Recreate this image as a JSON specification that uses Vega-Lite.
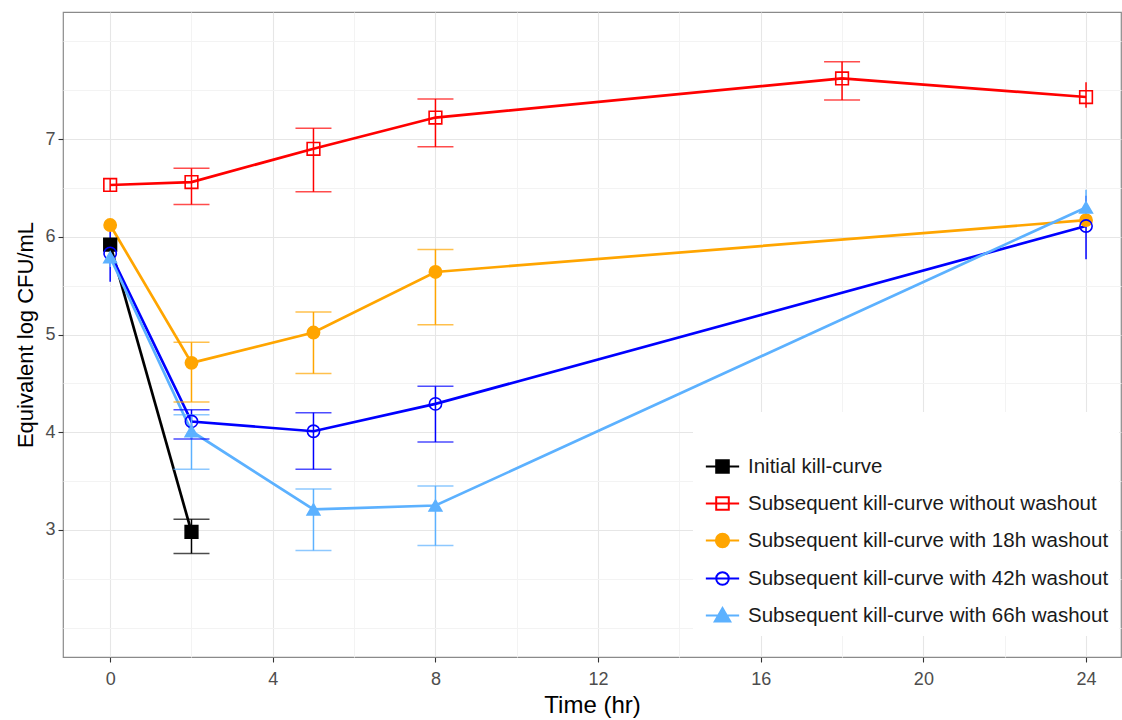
{
  "$schema": "https://vega.github.io/schema/vega-lite/v6.json",
  "width": 1058,
  "height": 645,
  "autosize": "none",
  "padding": {"left": 63, "top": 12, "right": 1, "bottom": 63},
  "background": "white",
  "config": {
    "font": "Arial, Liberation Sans, sans-serif",
    "view": {"stroke": "#8a8a8a", "strokeWidth": 1.2},
    "legend": {
      "orient": "none", "legendX": 630, "legendY": 400,
      "titleFontSize": 22, "titlePadding": 3,
      "padding": 10, "fillColor": "white",
      "symbolSize": 1369, "symbolStrokeWidth": 2, "symbolOpacity": 1,
      "labelFontSize": 20.5, "labelColor": "#1A1A1A", "labelOffset": 6,
      "labelLimit": 500, "rowPadding": 7
    }
  },
  "data": {
    "values": [
      {"series": "Initial kill-curve", "t": 0, "y": 5.92, "lo": 5.87, "hi": 5.97},
      {"series": "Initial kill-curve", "t": 2, "y": 2.98, "lo": 2.76, "hi": 3.11},
      {"series": "Subsequent kill-curve without washout", "t": 0, "y": 6.53, "lo": 6.46, "hi": 6.6},
      {"series": "Subsequent kill-curve without washout", "t": 2, "y": 6.56, "lo": 6.33, "hi": 6.7},
      {"series": "Subsequent kill-curve without washout", "t": 5, "y": 6.9, "lo": 6.46, "hi": 7.11},
      {"series": "Subsequent kill-curve without washout", "t": 8, "y": 7.22, "lo": 6.92, "hi": 7.41},
      {"series": "Subsequent kill-curve without washout", "t": 18, "y": 7.62, "lo": 7.4, "hi": 7.79},
      {"series": "Subsequent kill-curve without washout", "t": 24, "y": 7.43, "lo": 7.32, "hi": 7.58},
      {"series": "Subsequent kill-curve with 18h washout", "t": 0, "y": 6.12, "lo": 6.07, "hi": 6.17},
      {"series": "Subsequent kill-curve with 18h washout", "t": 2, "y": 4.71, "lo": 4.31, "hi": 4.92},
      {"series": "Subsequent kill-curve with 18h washout", "t": 5, "y": 5.02, "lo": 4.6, "hi": 5.23},
      {"series": "Subsequent kill-curve with 18h washout", "t": 8, "y": 5.64, "lo": 5.1, "hi": 5.87},
      {"series": "Subsequent kill-curve with 18h washout", "t": 24, "y": 6.17, "lo": 6.12, "hi": 6.22},
      {"series": "Subsequent kill-curve with 42h washout", "t": 0, "y": 5.83, "lo": 5.54, "hi": 6.1},
      {"series": "Subsequent kill-curve with 42h washout", "t": 2, "y": 4.11, "lo": 3.93, "hi": 4.23},
      {"series": "Subsequent kill-curve with 42h washout", "t": 5, "y": 4.01, "lo": 3.62, "hi": 4.2},
      {"series": "Subsequent kill-curve with 42h washout", "t": 8, "y": 4.29, "lo": 3.9, "hi": 4.47},
      {"series": "Subsequent kill-curve with 42h washout", "t": 24, "y": 6.11, "lo": 5.77, "hi": 6.42},
      {"series": "Subsequent kill-curve with 66h washout", "t": 0, "y": 5.79, "lo": 5.69, "hi": 5.89},
      {"series": "Subsequent kill-curve with 66h washout", "t": 2, "y": 4.01, "lo": 3.62, "hi": 4.18},
      {"series": "Subsequent kill-curve with 66h washout", "t": 5, "y": 3.21, "lo": 2.79, "hi": 3.42},
      {"series": "Subsequent kill-curve with 66h washout", "t": 8, "y": 3.25, "lo": 2.84, "hi": 3.45},
      {"series": "Subsequent kill-curve with 66h washout", "t": 24, "y": 6.3, "lo": 6.12, "hi": 6.48}
    ]
  },
  "encoding": {
    "x": {
      "field": "t", "type": "quantitative",
      "scale": {"domain": [-1.16, 24.86], "nice": false, "zero": false},
      "axis": {
        "title": "Time (hr)",
        "values": [0, 2, 4, 6, 8, 10, 12, 14, 16, 18, 20, 22, 24],
        "labelExpr": "datum.value % 4 === 0 ? '' + datum.value : ''",
        "domain": false,
        "tickColor": "#333333",
        "tickOpacity": {"condition": {"test": "datum.value % 4 !== 0", "value": 0}, "value": 1},
        "tickSize": 5,
        "tickWidth": 1.1,
        "labelFontSize": 18,
        "labelColor": "#4D4D4D",
        "labelPadding": 8,
        "titleFontSize": 24,
        "titleFontWeight": "normal",
        "titleColor": "#000000",
        "titlePadding": 5,
        "gridColor": {"condition": {"test": "datum.value % 4 !== 0", "value": "#F3F3F3"}, "value": "#E6E6E6"},
        "gridWidth": 1.1
      }
    }
  },
  "layer": [
    {
      "transform": [{"filter": "datum.t === 0"}],
      "mark": {"type": "point", "size": 1369, "strokeWidth": 2, "opacity": 0},
      "encoding": {
        "y": {
          "field": "y", "type": "quantitative",
          "scale": {"domain": [1.7, 8.3], "nice": false, "zero": false},
          "axis": {
            "title": "Equivalent log CFU/mL",
            "values": [2, 2.5, 3, 3.5, 4, 4.5, 5, 5.5, 6, 6.5, 7, 7.5, 8],
            "labelExpr": "(datum.value % 1 === 0 && datum.value >= 3 && datum.value <= 7) ? '' + datum.value : ''",
            "domain": false,
            "tickColor": "#333333",
            "tickOpacity": {"condition": {"test": "datum.value % 1 !== 0 || datum.value < 3 || datum.value > 7", "value": 0}, "value": 1},
            "tickSize": 5,
            "tickWidth": 1.1,
            "labelFontSize": 18,
            "labelColor": "#4D4D4D",
            "labelPadding": 3,
            "titleFontSize": 22,
            "titleFontWeight": "normal",
            "titleColor": "#000000",
            "titlePadding": 7,
            "gridColor": {"condition": {"test": "datum.value % 1 !== 0 || datum.value < 3 || datum.value > 7", "value": "#F3F3F3"}, "value": "#E6E6E6"},
            "gridWidth": 1.1
          }
        },
        "stroke": {
          "field": "series", "type": "nominal", "legend": {"title": " "},
          "scale": {
            "domain": ["Initial kill-curve", "Subsequent kill-curve without washout", "Subsequent kill-curve with 18h washout", "Subsequent kill-curve with 42h washout", "Subsequent kill-curve with 66h washout"],
            "range": ["#000000", "#FF0000", "#FFA500", "#0000FF", "#5CB1FF"]
          }
        },
        "fill": {
          "field": "series", "type": "nominal", "legend": {"title": " "},
          "scale": {
            "domain": ["Initial kill-curve", "Subsequent kill-curve without washout", "Subsequent kill-curve with 18h washout", "Subsequent kill-curve with 42h washout", "Subsequent kill-curve with 66h washout"],
            "range": ["#000000", "transparent", "#FFA500", "transparent", "#5CB1FF"]
          }
        },
        "shape": {
          "field": "series", "type": "nominal", "legend": {"title": " "},
          "scale": {
            "domain": ["Initial kill-curve", "Subsequent kill-curve without washout", "Subsequent kill-curve with 18h washout", "Subsequent kill-curve with 42h washout", "Subsequent kill-curve with 66h washout"],
            "range": [
              "M-0.9,0H0.9M-0.34,-0.34H0.34V0.34H-0.34Z",
              "M-0.9,0H0.9M-0.34,-0.34H0.34V0.34H-0.34Z",
              "M-0.9,0H0.9M0.36,0A0.36,0.36 0 1,1 -0.36,0A0.36,0.36 0 1,1 0.36,0Z",
              "M-0.9,0H0.9M0.34,0A0.34,0.34 0 1,1 -0.34,0A0.34,0.34 0 1,1 0.34,0Z",
              "M-0.9,0H0.9M0,-0.4L0.42,0.32H-0.42Z"
            ]
          }
        }
      }
    },
    {
      "mark": {"type": "line", "strokeWidth": 2.7},
      "encoding": {
        "y": {"field": "y", "type": "quantitative"},
        "stroke": {"field": "series", "type": "nominal"}
      }
    },
    {
      "mark": {"type": "rule", "strokeWidth": 1.5},
      "encoding": {
        "y": {"field": "lo", "type": "quantitative"},
        "y2": {"field": "hi"},
        "stroke": {"field": "series", "type": "nominal"}
      }
    },
    {
      "transform": [{"filter": "datum.t > 0 && datum.t < 24"}],
      "mark": {"type": "tick", "orient": "horizontal", "size": 36, "thickness": 1.5},
      "encoding": {
        "y": {"field": "lo", "type": "quantitative"},
        "color": {
          "field": "series", "type": "nominal", "legend": null,
          "scale": {
            "domain": ["Initial kill-curve", "Subsequent kill-curve without washout", "Subsequent kill-curve with 18h washout", "Subsequent kill-curve with 42h washout", "Subsequent kill-curve with 66h washout"],
            "range": ["#000000", "#FF0000", "#FFA500", "#0000FF", "#5CB1FF"]
          }
        }
      }
    },
    {
      "transform": [{"filter": "datum.t > 0 && datum.t < 24"}],
      "mark": {"type": "tick", "orient": "horizontal", "size": 36, "thickness": 1.5},
      "encoding": {
        "y": {"field": "hi", "type": "quantitative"},
        "color": {"field": "series", "type": "nominal", "legend": null}
      }
    },
    {
      "transform": [{"filter": "datum.series === 'Initial kill-curve' || datum.series === 'Subsequent kill-curve without washout'"}],
      "mark": {"type": "point", "shape": "square", "size": 160, "strokeWidth": 1.6, "opacity": 1},
      "encoding": {
        "y": {"field": "y", "type": "quantitative"},
        "stroke": {"field": "series", "type": "nominal"},
        "fill": {"field": "series", "type": "nominal"}
      }
    },
    {
      "transform": [{"filter": "datum.series === 'Subsequent kill-curve with 18h washout' || datum.series === 'Subsequent kill-curve with 42h washout'"}],
      "mark": {"type": "point", "shape": "circle", "size": 150, "strokeWidth": 1.6, "opacity": 1},
      "encoding": {
        "y": {"field": "y", "type": "quantitative"},
        "stroke": {"field": "series", "type": "nominal"},
        "fill": {"field": "series", "type": "nominal"}
      }
    },
    {
      "transform": [{"filter": "datum.series === 'Subsequent kill-curve with 66h washout'"}],
      "mark": {"type": "point", "shape": "triangle-up", "size": 160, "strokeWidth": 1.6, "opacity": 1},
      "encoding": {
        "y": {"field": "y", "type": "quantitative"},
        "stroke": {"field": "series", "type": "nominal"},
        "fill": {"field": "series", "type": "nominal"}
      }
    }
  ]
}
